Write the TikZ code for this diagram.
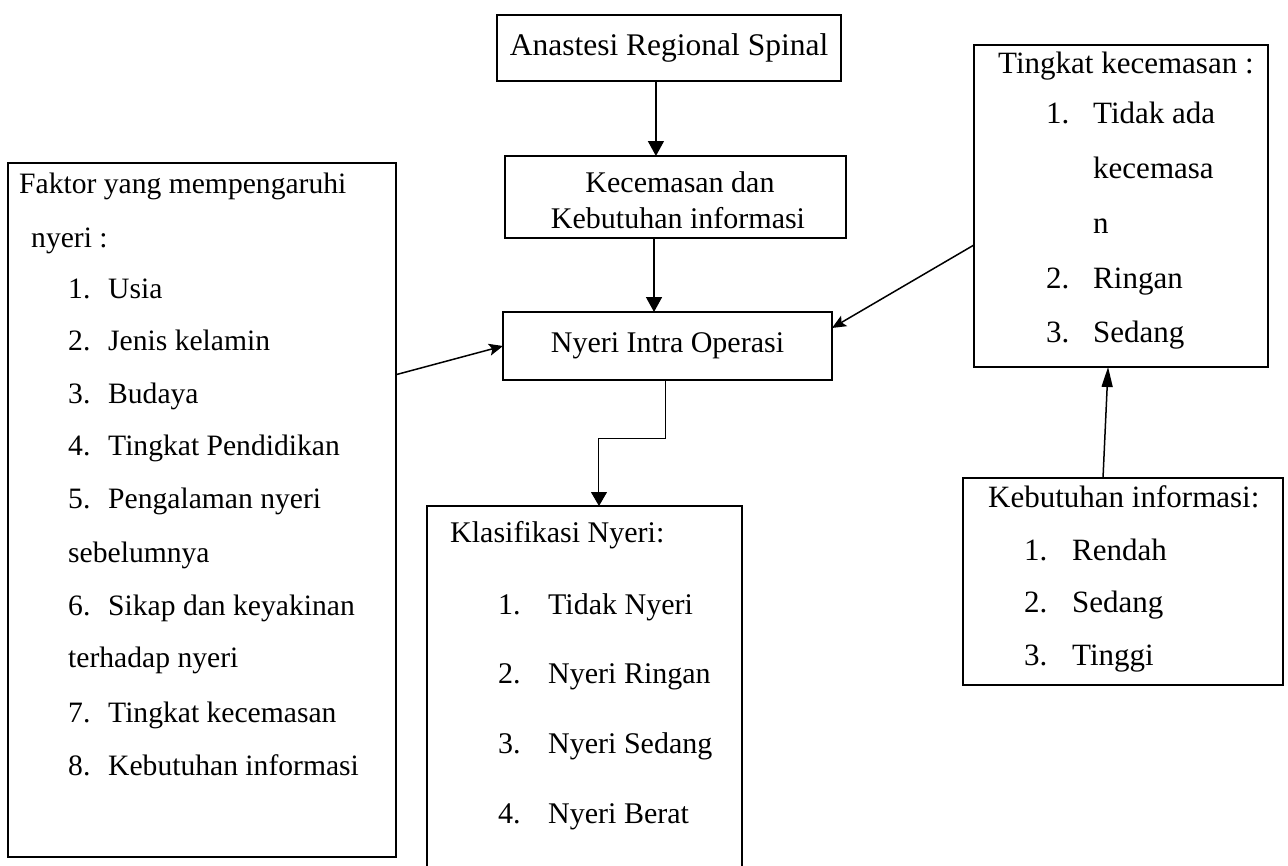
\documentclass[tikz,border=0pt]{standalone}
\usepackage{fontspec}
\setmainfont{Liberation Serif}
\usetikzlibrary{arrows.meta,calc}
\begin{document}
\begin{tikzpicture}[x=1pt,y=-1pt,
  box/.style={draw=black, line width=2pt, inner sep=0pt, outer sep=0pt, fill=white},
  txt/.style={inner sep=0pt, anchor=base west},
  ctxt/.style={inner sep=0pt, anchor=base},
  fA/.style={font=\fontsize{29.6}{35}\selectfont},
  fB/.style={font=\fontsize{30}{36}\selectfont},
  fC/.style={font=\fontsize{31}{37}\selectfont},
  fD/.style={font=\fontsize{31.5}{37}\selectfont},
  conn/.style={line width=1.5pt, -{Triangle[width=16pt,length=15pt]}},
  connthin/.style={line width=1pt, -{Triangle[width=16pt,length=14pt]}},
  side/.style={line width=1.5pt, -{Stealth[width=12pt,length=14pt,inset=3pt]}},
  upconn/.style={line width=1.5pt, -{Triangle[width=11pt,length=20pt]}}
]
\useasboundingbox (0,0) rectangle (1288,865);
\clip (0,0) rectangle (1288,865);
\fill[white] (0,0) rectangle (1288,865);

% boxes
\node[box, fD, minimum width=344pt, minimum height=66pt] (anast) at (669,48) {Anastesi Regional Spinal};
\node[box, minimum width=341pt, minimum height=82pt] (kec) at (675.5,197) {};
\node[box, fB, minimum width=329pt, minimum height=68pt] (nyeri) at (667.5,346) {Nyeri Intra Operasi};
\node[box, minimum width=388pt, minimum height=694pt] (left) at (202,510) {};
\node[box, minimum width=315pt, minimum height=394pt] (klas) at (584.5,703) {};
\node[box, minimum width=294pt, minimum height=322pt] (ting) at (1121,206) {};
\node[box, minimum width=320pt, minimum height=207pt] (kebut) at (1123,581.5) {};

% Kecemasan text
\node[ctxt, fB] (kecA) at (680,192) {Kecemasan dan};
\node[ctxt, fB] (kecB) at (678,228) {Kebutuhan informasi};

% left box text
\node[txt, fA] (l0) at (19,193) {Faktor yang mempengaruhi};
\node[txt, fA] (l0b) at (31,247) {nyeri :};
\node[txt, fA] (n1) at (68,298) {1.};  \node[txt, fA] (i1) at (108,298) {Usia};
\node[txt, fA] (n2) at (68,350) {2.};  \node[txt, fA] (i2) at (108,350) {Jenis kelamin};
\node[txt, fA] (n3) at (68,403) {3.};  \node[txt, fA] (i3) at (108,403) {Budaya};
\node[txt, fA] (n4) at (68,455) {4.};  \node[txt, fA] (i4) at (108,455) {Tingkat Pendidikan};
\node[txt, fA] (n5) at (68,508) {5.};  \node[txt, fA] (i5) at (108,508) {Pengalaman nyeri};
\node[txt, fA] (i5b) at (68,562) {sebelumnya};
\node[txt, fA] (n6) at (68,615) {6.};  \node[txt, fA] (i6) at (108,615) {Sikap dan keyakinan};
\node[txt, fA] (i6b) at (68,667) {terhadap nyeri};
\node[txt, fA] (n7) at (68,722) {7.};  \node[txt, fA] (i7) at (108,722) {Tingkat kecemasan};
\node[txt, fA] (n8) at (68,775) {8.};  \node[txt, fA] (i8) at (108,775) {Kebutuhan informasi};

% klasifikasi text
\node[txt, fB] (k0) at (450,542) {Klasifikasi Nyeri:};
\node[txt, fB] (kn1) at (498,614) {1.}; \node[txt, fB] (k1) at (548,614) {Tidak Nyeri};
\node[txt, fB] (kn2) at (498,683) {2.}; \node[txt, fB] (k2) at (548,683) {Nyeri Ringan};
\node[txt, fB] (kn3) at (498,753) {3.}; \node[txt, fB] (k3) at (548,753) {Nyeri Sedang};
\node[txt, fB] (kn4) at (498,823) {4.}; \node[txt, fB] (k4) at (548,823) {Nyeri Berat};

% tingkat text
\node[txt, fC] (t0) at (998,73) {Tingkat kecemasan :};
\node[txt, fC] (tn1) at (1046,123) {1.}; \node[txt, fC] (t1) at (1093,123) {Tidak ada};
\node[txt, fC] (t1b) at (1093,178) {kecemasa};
\node[txt, fC] (t1c) at (1093,233) {n};
\node[txt, fC] (tn2) at (1046,288) {2.}; \node[txt, fC] (t2) at (1093,288) {Ringan};
\node[txt, fC] (tn3) at (1046,342) {3.}; \node[txt, fC] (t3) at (1093,342) {Sedang};

% kebutuhan text
\node[txt, fC] (b0) at (988,507) {Kebutuhan informasi:};
\node[txt, fC] (bn1) at (1024,560) {1.}; \node[txt, fC] (b1) at (1072,560) {Rendah};
\node[txt, fC] (bn2) at (1024,612) {2.}; \node[txt, fC] (b2) at (1072,612) {Sedang};
\node[txt, fC] (bn3) at (1024,665) {3.}; \node[txt, fC] (b3) at (1072,665) {Tinggi};

% connectors
\draw[conn] ($(anast.south west)!0.462!(anast.south east)$) coordinate (s1) -- (s1 |- kec.north);
\draw[conn] ($(kec.south west)!0.437!(kec.south east)$) coordinate (s2) -- (s2 |- nyeri.north);
\draw[connthin] ($(nyeri.south west)!0.495!(nyeri.south east)$) coordinate (s3) -- ++(0,58) -| ($(klas.north west)!0.546!(klas.north east)$);
\draw[side] ($(left.north east)!0.305!(left.south east)$) -- (nyeri.west);
\draw[side] ($(ting.north west)!0.621!(ting.south west)$) -- ($(nyeri.north east)!0.235!(nyeri.south east)$);
\draw[upconn] ($(kebut.north west)!0.4375!(kebut.north east)$) -- ($(ting.south west)!0.456!(ting.south east)$);
\end{tikzpicture}
\end{document}
